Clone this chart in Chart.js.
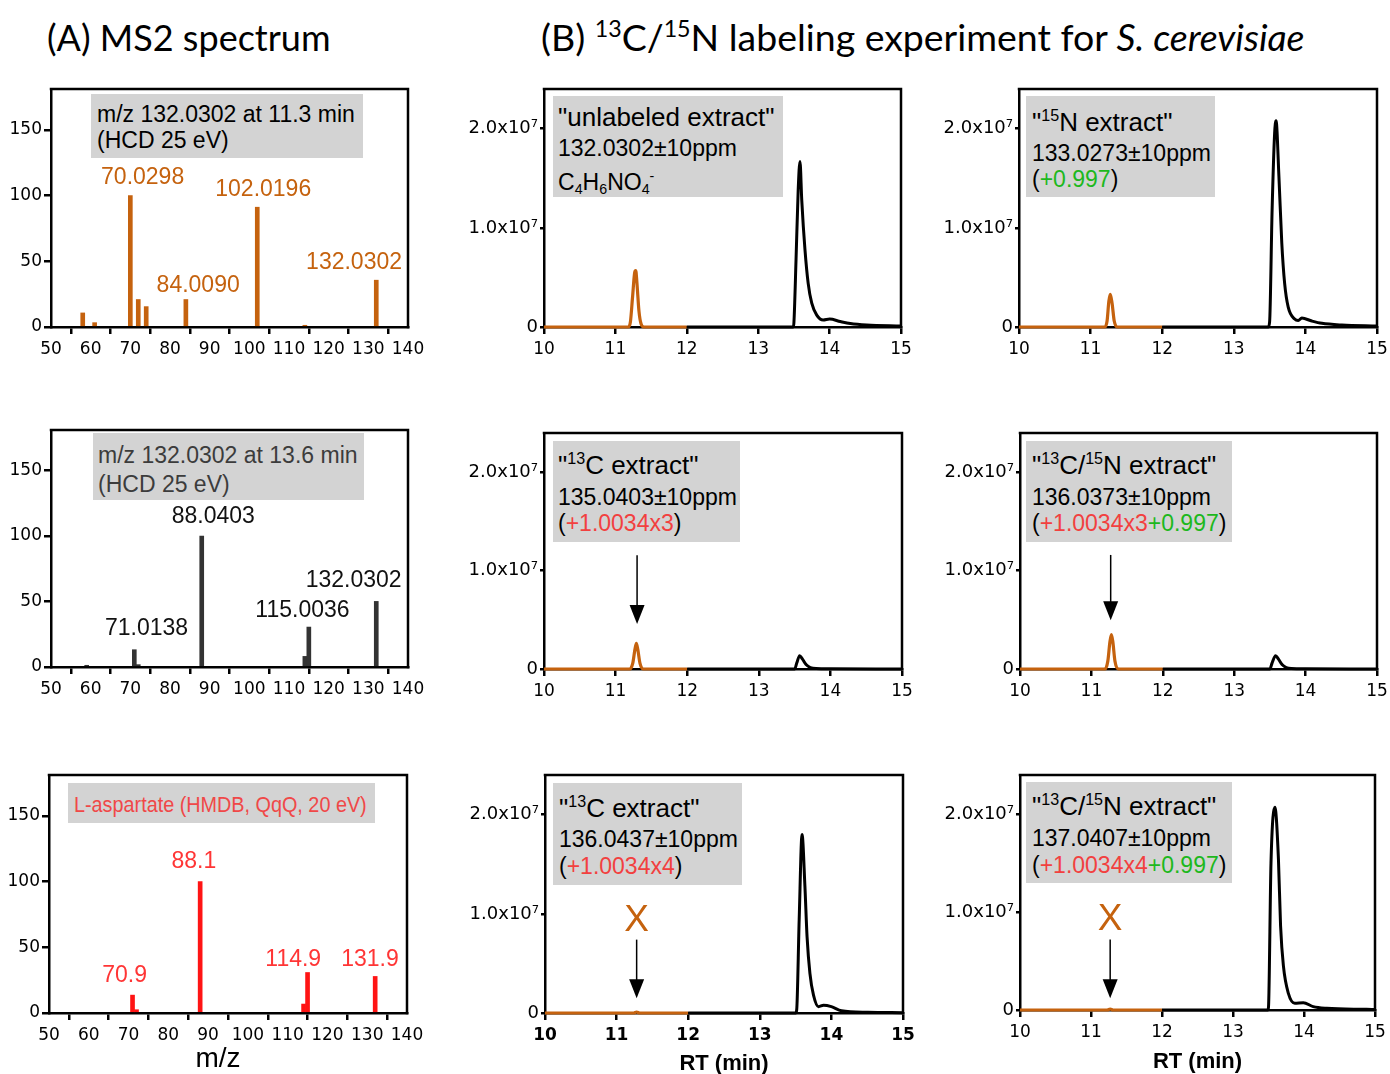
<!DOCTYPE html>
<html><head><meta charset="utf-8">
<script src="https://cdn.jsdelivr.net/npm/chart.js@4.4.1/dist/chart.umd.min.js"></script>
<style>
html,body{margin:0;padding:0;}
body{width:1390px;height:1074px;position:relative;background:#fff;overflow:hidden;font-family:'Liberation Sans',Arial,sans-serif;color:#000;}
canvas{position:absolute;}
.t{position:absolute;white-space:nowrap;line-height:1;transform-origin:0 0;}
.box{position:absolute;background:#d3d3d3;}
.sp{font-size:0.62em;position:relative;top:-0.62em;}
.sb{font-size:0.62em;position:relative;top:0.3em;}
.r{color:#F2403F;}
.g{color:#1DB81D;}
</style></head><body>
<script>
// ---------------- DATA ----------------
// (A) MS2 spectra: m/z and relative intensity
const mzMS2at113 = [58, 61, 70, 72, 74, 84, 102, 114, 132];
const relMS2at113 = [10.7, 3.3, 100, 20.9, 15.5, 20.9, 91.1, 1.3, 35.6];
const mzMS2at136 = [59, 71, 72, 88, 114, 115, 132];
const relMS2at136 = [1.3, 13.2, 1.8, 100, 8.1, 30.5, 50.1];
const mzHMDB = [71, 72, 88, 114, 115, 132];
const relHMDB = [13.6, 2.5, 100, 6.8, 30.8, 27.8];
const peakLabels113 = ['70.0298', '102.0196', '84.0090', '132.0302'];
const peakLabels136 = ['88.0403', '71.0138', '115.0036', '132.0302'];
const peakLabelsHMDB = ['88.1', '70.9', '114.9', '131.9'];
const mzTicks = [50, 60, 70, 80, 90, 100, 110, 120, 130, 140];
const relTicks = [0, 50, 100, 150];

// (B) extracted ion chromatograms: retention time (min) and intensity
// unlabeled extract, m/z 132.0302
const rtUnl132Orange = [10, 11.18, 11.21, 11.24, 11.27, 11.285, 11.30, 11.33, 11.36, 11.40, 12];
const intUnl132Orange = [0, 0, 0.5e6, 3.0e6, 5.5e6, 5.7e6, 4.6e6, 1.6e6, 0.3e6, 0, 0];
const rtUnl132Black = [12, 13.49, 13.50, 13.53, 13.56, 13.585, 13.61, 13.655, 13.70, 13.75, 13.82, 13.91, 14.0, 14.15, 14.29, 14.52, 15];
const intUnl132Black = [0, 0, 0.4e6, 6.8e6, 13.8e6, 16.7e6, 12.8e6, 7.8e6, 4.4e6, 2.4e6, 1.2e6, 0.7e6, 0.8e6, 0.55e6, 0.35e6, 0.2e6, 0.1e6];
// 15N extract, m/z 133.0273
const rtN133Orange = [10, 11.20, 11.23, 11.255, 11.275, 11.30, 11.33, 11.37, 12];
const intN133Orange = [0, 0, 0.6e6, 2.6e6, 3.3e6, 2.4e6, 0.6e6, 0, 0];
const rtN133Black = [12, 13.48, 13.50, 13.535, 13.57, 13.59, 13.63, 13.67, 13.71, 13.76, 13.85, 13.90, 13.95, 14.09, 14.23, 14.51, 15];
const intN133Black = [0, 0, 0.5e6, 11.8e6, 19.5e6, 20.8e6, 15.2e6, 8.5e6, 4.4e6, 2.0e6, 0.8e6, 0.65e6, 0.9e6, 0.6e6, 0.37e6, 0.2e6, 0.1e6];
// 13C extract, m/z 135.0403
const rtC135Orange = [10, 11.20, 11.24, 11.27, 11.29, 11.31, 11.34, 11.39, 12];
const intC135Orange = [0, 0, 0.6e6, 2.0e6, 2.6e6, 2.0e6, 0.6e6, 0, 0];
const rtC135Black = [12, 13.50, 13.53, 13.57, 13.61, 13.66, 13.72, 13.80, 14.0, 15];
const intC135Black = [0, 0, 0.6e6, 1.36e6, 1.0e6, 0.45e6, 0.15e6, 0.05e6, 0.03e6, 0];
// 13C/15N extract, m/z 136.0373
const rtCN136Orange = [10, 11.19, 11.23, 11.26, 11.28, 11.30, 11.33, 11.38, 12];
const intCN136Orange = [0, 0, 0.8e6, 2.8e6, 3.5e6, 2.8e6, 0.8e6, 0, 0];
const rtCN136Black = [12, 13.50, 13.53, 13.58, 13.62, 13.67, 13.73, 13.80, 14.0, 15];
const intCN136Black = [0, 0, 0.6e6, 1.36e6, 1.0e6, 0.45e6, 0.15e6, 0.05e6, 0.03e6, 0];
// 13C extract, m/z 136.0437
const rtC136Orange = [10, 11.24, 11.28, 11.32, 12];
const intC136Orange = [0, 0, 0.1e6, 0, 0];
const rtC136Black = [12, 13.50, 13.515, 13.55, 13.59, 13.63, 13.66, 13.70, 13.75, 13.82, 13.89, 14.0, 14.14, 14.51, 15];
const intC136Black = [0, 0, 0.3e6, 9.4e6, 18.0e6, 12.8e6, 7.7e6, 4.0e6, 1.8e6, 0.64e6, 0.78e6, 0.64e6, 0.23e6, 0.07e6, 0.03e6];
// 13C/15N extract, m/z 137.0407
const rtCN137Orange = [10, 11.23, 11.27, 11.31, 12];
const intCN137Orange = [0, 0, 0.1e6, 0, 0];
const rtCN137Black = [12, 13.49, 13.50, 13.535, 13.59, 13.64, 13.67, 13.71, 13.78, 13.87, 13.99, 14.13, 14.32, 14.88, 15];
const intCN137Black = [0, 0, 0.3e6, 15.0e6, 20.7e6, 15.4e6, 8.6e6, 4.5e6, 1.7e6, 0.7e6, 0.75e6, 0.34e6, 0.17e6, 0.07e6, 0.05e6];
const rtTicks = [10, 11, 12, 13, 14, 15];
const intTicks = [0, 1e7, 2e7];
const intTickLabels = ['0', '1.0x10\u2077', '2.0x10\u2077'];

// ---------------- STYLE / LAYOUT ----------------
const ORANGE = '#C5620E';
const TICKFONT = 'DejaVu Sans';
Chart.defaults.font.family = TICKFONT;
Chart.defaults.color = '#000';

const zip = (a, b) => a.map((v, i) => ({x: v, y: b[i]}));

const annotPlugin = {
  id: 'annot',
  afterDraw(chart, args, o) {
    const ctx = chart.ctx, ca = chart.chartArea, xs = chart.scales.x, ys = chart.scales.y;
    ctx.save();
    ctx.strokeStyle = '#000'; ctx.lineWidth = 2.5;
    ctx.beginPath();
    ctx.moveTo(ca.left - 1.25, ca.top); ctx.lineTo(ca.right, ca.top); ctx.lineTo(ca.right, ca.bottom + 1.25);
    ctx.stroke();
    (o.labels || []).forEach(l => {
      ctx.font = (l.size || 23) + 'px "Liberation Sans"';
      ctx.fillStyle = l.color; ctx.textAlign = 'center'; ctx.textBaseline = 'alphabetic';
      ctx.fillText(l.text, xs.getPixelForValue(l.x), ys.getPixelForValue(l.y));
    });
    (o.arrows || []).forEach(a => {
      const px = xs.getPixelForValue(a.x), y0 = ys.getPixelForValue(a.yTop), y1 = ys.getPixelForValue(a.yTip);
      const hh = 19, hw = 7.5;
      ctx.strokeStyle = '#000'; ctx.lineWidth = 1.5;
      ctx.beginPath(); ctx.moveTo(px, y0); ctx.lineTo(px, y1 - hh + 2); ctx.stroke();
      ctx.fillStyle = '#000';
      ctx.beginPath(); ctx.moveTo(px - hw, y1 - hh); ctx.lineTo(px + hw, y1 - hh); ctx.lineTo(px, y1); ctx.closePath(); ctx.fill();
    });
    (o.marks || []).forEach(m => {
      ctx.font = '37px "Liberation Sans"'; ctx.fillStyle = ORANGE;
      ctx.textAlign = 'center'; ctx.textBaseline = 'middle';
      ctx.fillText('X', xs.getPixelForValue(m.x), ys.getPixelForValue(m.y) + 1);
    });
    ctx.restore();
  }
};
Chart.register(annotPlugin);

function mount(canvasRect, plot, config) {
  const [cx, cy, cw, ch] = canvasRect, [L, T, R, B] = plot;
  const c = document.createElement('canvas');
  c.width = cw; c.height = ch;
  Object.assign(c.style, {left: cx + 'px', top: cy + 'px', width: cw + 'px', height: ch + 'px'});
  document.body.appendChild(c);
  const o = config.options;
  o.responsive = false; o.animation = false; o.devicePixelRatio = 1;
  o.layout = {padding: {left: 0, top: T - cy, right: cx + cw - R, bottom: 0}};
  o.scales.x.afterFit = s => { s.height = cy + ch - B; s.paddingLeft = s.paddingRight = s.paddingTop = s.paddingBottom = 0; };
  o.scales.y.afterFit = s => { s.width = L - cx; s.paddingLeft = s.paddingRight = s.paddingTop = s.paddingBottom = 0; };
  return new Chart(c, config);
}

function axisCommon(tickLen) {
  return {
    grid: {drawOnChartArea: false, drawTicks: true, tickLength: tickLen, color: '#000', lineWidth: 2.5},
    border: {display: true, color: '#000', width: 2.5}
  };
}

function spectrum(mz, rel, color, labels, anchors, labelColor) {
  return {
    type: 'bar',
    data: {datasets: [{data: zip(mz, rel), backgroundColor: color, barThickness: 4, borderWidth: 0}]},
    options: {
      plugins: {legend: {display: false}, tooltip: {enabled: false},
        annot: {labels: labels.map((t, i) => ({text: t, x: anchors[i][0], y: anchors[i][1], color: labelColor}))}},
      scales: {
        x: Object.assign({type: 'linear', offset: false, min: mzTicks[0], max: mzTicks[mzTicks.length - 1],
          afterBuildTicks: s => { s.ticks = mzTicks.map(v => ({value: v})); },
          ticks: {font: {size: 17}, padding: 5, color: '#000', maxRotation: 0, autoSkip: false}}, axisCommon(7)),
        y: Object.assign({type: 'linear', min: 0, max: 181,
          afterBuildTicks: s => { s.ticks = relTicks.map(v => ({value: v})); },
          ticks: {font: {size: 17}, padding: 2, color: '#000'}}, axisCommon(7))
      }
    }
  };
}

function chrom(rtO, intO, rtB, intB, annot, bold, title) {
  const x = Object.assign({type: 'linear', min: rtTicks[0], max: rtTicks[rtTicks.length - 1],
    afterBuildTicks: s => { s.ticks = rtTicks.map(v => ({value: v})); },
    ticks: {font: {size: 17, weight: bold ? 'bold' : 'normal'}, padding: 5, color: '#000', maxRotation: 0, autoSkip: false}}, axisCommon(7));
  if (title) x.title = {display: true, text: title, font: {family: 'Liberation Sans', size: 22, weight: 'bold'}, color: '#000', padding: {top: 0, bottom: 1}};
  return {
    type: 'line',
    data: {datasets: [
      {data: zip(rtB, intB), borderColor: '#000', borderWidth: 3, pointRadius: 0, cubicInterpolationMode: 'monotone', clip: 6},
      {data: zip(rtO, intO), borderColor: ORANGE, borderWidth: 3.2, pointRadius: 0, cubicInterpolationMode: 'monotone', clip: 6}
    ]},
    options: {
      plugins: {legend: {display: false}, tooltip: {enabled: false}, annot: annot},
      scales: {
        x: x,
        y: Object.assign({type: 'linear', min: 0, max: 2.4e7,
          afterBuildTicks: s => { s.ticks = intTicks.map(v => ({value: v})); },
          ticks: {font: {size: 18}, padding: 2, color: '#000', callback: (v, i) => intTickLabels[i]}}, axisCommon(4))
      }
    }
  };
}

// ---- (A) spectra ----
mount([0, 80, 432, 290], [51, 89, 408, 327],
  spectrum(mzMS2at113, relMS2at113, ORANGE, peakLabels113, [[73.1, 108.7], [103.5, 99.6], [87.1, 26.8], [126.4, 43.9]], ORANGE));
mount([0, 420, 432, 290], [51, 430, 408, 667],
  spectrum(mzMS2at136, relMS2at136, '#333333', peakLabels136, [[90.9, 109.8], [74.1, 24.4], [113.4, 38.4], [126.3, 61.3]], '#111111'));
mount([0, 760, 432, 314], [49, 775, 407, 1013],
  spectrum(mzHMDB, relHMDB, '#FF1414', peakLabelsHMDB, [[86.4, 110.0], [69.0, 23.8], [111.4, 35.7], [130.7, 35.7]], '#FF3535'));

// ---- (B) chromatograms ----
mount([440, 80, 480, 290], [544, 89, 901, 327], chrom(rtUnl132Orange, intUnl132Orange, rtUnl132Black, intUnl132Black, {}, false));
mount([915, 80, 475, 290], [1019, 89, 1377, 327], chrom(rtN133Orange, intN133Orange, rtN133Black, intN133Black, {}, false));
mount([440, 420, 480, 290], [544, 433, 902, 669], chrom(rtC135Orange, intC135Orange, rtC135Black, intC135Black,
  {arrows: [{x: 11.30, yTop: 1.157e7, yTip: 0.457e7}]}, false));
mount([915, 420, 475, 290], [1020, 433, 1377, 669], chrom(rtCN136Orange, intCN136Orange, rtCN136Black, intCN136Black,
  {arrows: [{x: 11.27, yTop: 1.16e7, yTip: 0.497e7}]}, false));
mount([440, 760, 480, 318], [545, 775, 903, 1013], chrom(rtC136Orange, intC136Orange, rtC136Black, intC136Black,
  {arrows: [{x: 11.28, yTop: 0.74e7, yTip: 0.15e7}], marks: [{x: 11.28, y: 0.94e7}]}, true, 'RT (min)'));
mount([915, 760, 475, 316], [1020, 775, 1375, 1010], chrom(rtCN137Orange, intCN137Orange, rtCN137Black, intCN137Black,
  {arrows: [{x: 11.27, yTop: 0.72e7, yTip: 0.12e7}], marks: [{x: 11.27, y: 0.93e7}]}, false, 'RT (min)'));

// ---------------- TEXT OVERLAYS ----------------
function addText(html, x, baseline, fs, opts) {
  opts = opts || {};
  const d = document.createElement('div');
  d.className = 't';
  const fam = opts.family || "'Liberation Sans'";
  const k = opts.k || 0.8465;
  Object.assign(d.style, {left: x + 'px', top: (baseline - k * fs) + 'px', fontSize: fs + 'px', fontFamily: fam, color: opts.color || '#000'});
  if (opts.sx) d.style.transform = 'scaleX(' + opts.sx + ')';
  if (opts.center) { d.style.transform = 'translateX(-50%)'; }
  d.innerHTML = html;
  document.body.appendChild(d);
}
function addBox(r) {
  const d = document.createElement('div'); d.className = 'box';
  Object.assign(d.style, {left: r[0] + 'px', top: r[1] + 'px', width: (r[2] - r[0]) + 'px', height: (r[3] - r[1]) + 'px'});
  document.body.appendChild(d);
}
const sp = s => '<span class="sp">' + s + '</span>';
const sb = s => '<span class="sb">' + s + '</span>';
const boxes = [
  {r: [91, 94, 363, 158], lines: [['m/z 132.0302 at 11.3 min', 97, 122, 23], ['(HCD 25 eV)', 97, 148, 23]]},
  {r: [93, 433, 364, 500], color: '#3c3c3c', lines: [['m/z 132.0302 at 13.6 min', 98, 463, 23], ['(HCD 25 eV)', 98, 492, 23]]},
  {r: [68, 783, 375, 823], color: '#F04848', sx: 0.9, lines: [['L-aspartate (HMDB, QqQ, 20 eV)', 74, 813, 22]]},
  {r: [553, 96, 783, 197], lines: [['"unlabeled extract"', 558, 126, 26], ['132.0302\u00B110ppm', 558, 156, 23],
    ['C' + sb('4') + 'H' + sb('6') + 'NO' + sb('4') + sp('-'), 558, 190, 23]]},
  {r: [1026, 96, 1215, 197], lines: [['"' + sp('15') + 'N extract"', 1032, 131, 26], ['133.0273\u00B110ppm', 1032, 161, 23],
    ['(<span class="g">+0.997</span>)', 1032, 187, 23]]},
  {r: [553, 441, 740, 542], lines: [['"' + sp('13') + 'C extract"', 558, 474, 26], ['135.0403\u00B110ppm', 558, 505, 23],
    ['(<span class="r">+1.0034x3</span>)', 558, 531, 23]]},
  {r: [1026, 441, 1232, 542], lines: [['"' + sp('13') + 'C/' + sp('15') + 'N extract"', 1032, 474, 26], ['136.0373\u00B110ppm', 1032, 505, 23],
    ['(<span class="r">+1.0034x3</span><span class="g">+0.997</span>)', 1032, 531, 23]]},
  {r: [553, 783, 742, 885], lines: [['"' + sp('13') + 'C extract"', 559, 817, 26], ['136.0437\u00B110ppm', 559, 847, 23],
    ['(<span class="r">+1.0034x4</span>)', 559, 874, 23]]},
  {r: [1026, 782, 1232, 883], lines: [['"' + sp('13') + 'C/' + sp('15') + 'N extract"', 1032, 815, 26], ['137.0407\u00B110ppm', 1032, 846, 23],
    ['(<span class="r">+1.0034x4</span><span class="g">+0.997</span>)', 1032, 873, 23]]}
];
boxes.forEach(b => {
  addBox(b.r);
  b.lines.forEach(l => addText(l[0], l[1], l[2], l[3], {color: b.color, sx: b.sx}));
});

// titles and axis label
addText('(A) MS2 spectrum', 47, 51, 36, {family: 'Lato', k: 0.887});
addText('(B) ' + sp('13') + 'C/' + sp('15') + 'N labeling experiment for <i>S. cerevisiae</i>', 541, 51, 36, {family: 'Lato', k: 0.887, sx: 1.04});
addText('m/z', 218, 1068, 28, {center: true});
</script>
</body></html>
